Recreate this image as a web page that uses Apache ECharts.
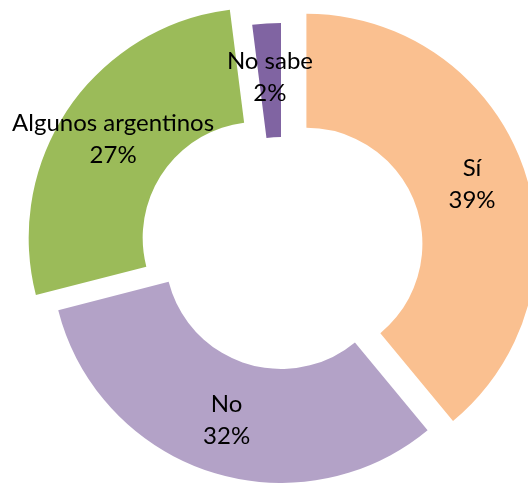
<!DOCTYPE html>
<html>
<head>
<meta charset="utf-8">
<script src="https://cdn.jsdelivr.net/npm/echarts@6/dist/echarts.min.js"></script>
<style>
  html, body { margin: 0; padding: 0; background: #fff; }
  #main { width: 528px; height: 483px; }
</style>
</head>
<body>
<div id="main"></div>
<script>
// respuestas y porcentajes (sentido horario desde arriba)
var categories = ['Sí', 'No', 'Algunos argentinos', 'No sabe'];
var values = [39, 32, 27, 2];
var exploded = [true, false, true, false];

var chart = echarts.init(document.getElementById('main'), null, { renderer: 'canvas' });

var pieData = categories.map(function (name, i) {
  return { name: name, value: values[i], selected: exploded[i] };
});

var option = {
  backgroundColor: '#ffffff',
  animation: false,
  color: ['#FAC090', '#B3A2C7', '#9BBB59', '#8064A2'],
  series: [{
    type: 'pie',
    center: [281, 253],
    radius: [116, 230],
    startAngle: 90,
    clockwise: true,
    selectedMode: 'multiple',
    selectedOffset: 27,
    avoidLabelOverlap: false,
    itemStyle: { borderColor: '#fff', borderWidth: 0 },
    label: {
      show: true,
      position: 'inside',
      formatter: '{b}\n{c}%',
      color: '#000',
      fontFamily: 'Lato',
      fontSize: 24,
      lineHeight: 32
    },
    labelLine: { show: false },
    emphasis: { disabled: true },
    data: pieData
  }]
};

chart.setOption(option);
</script>
</body>
</html>
